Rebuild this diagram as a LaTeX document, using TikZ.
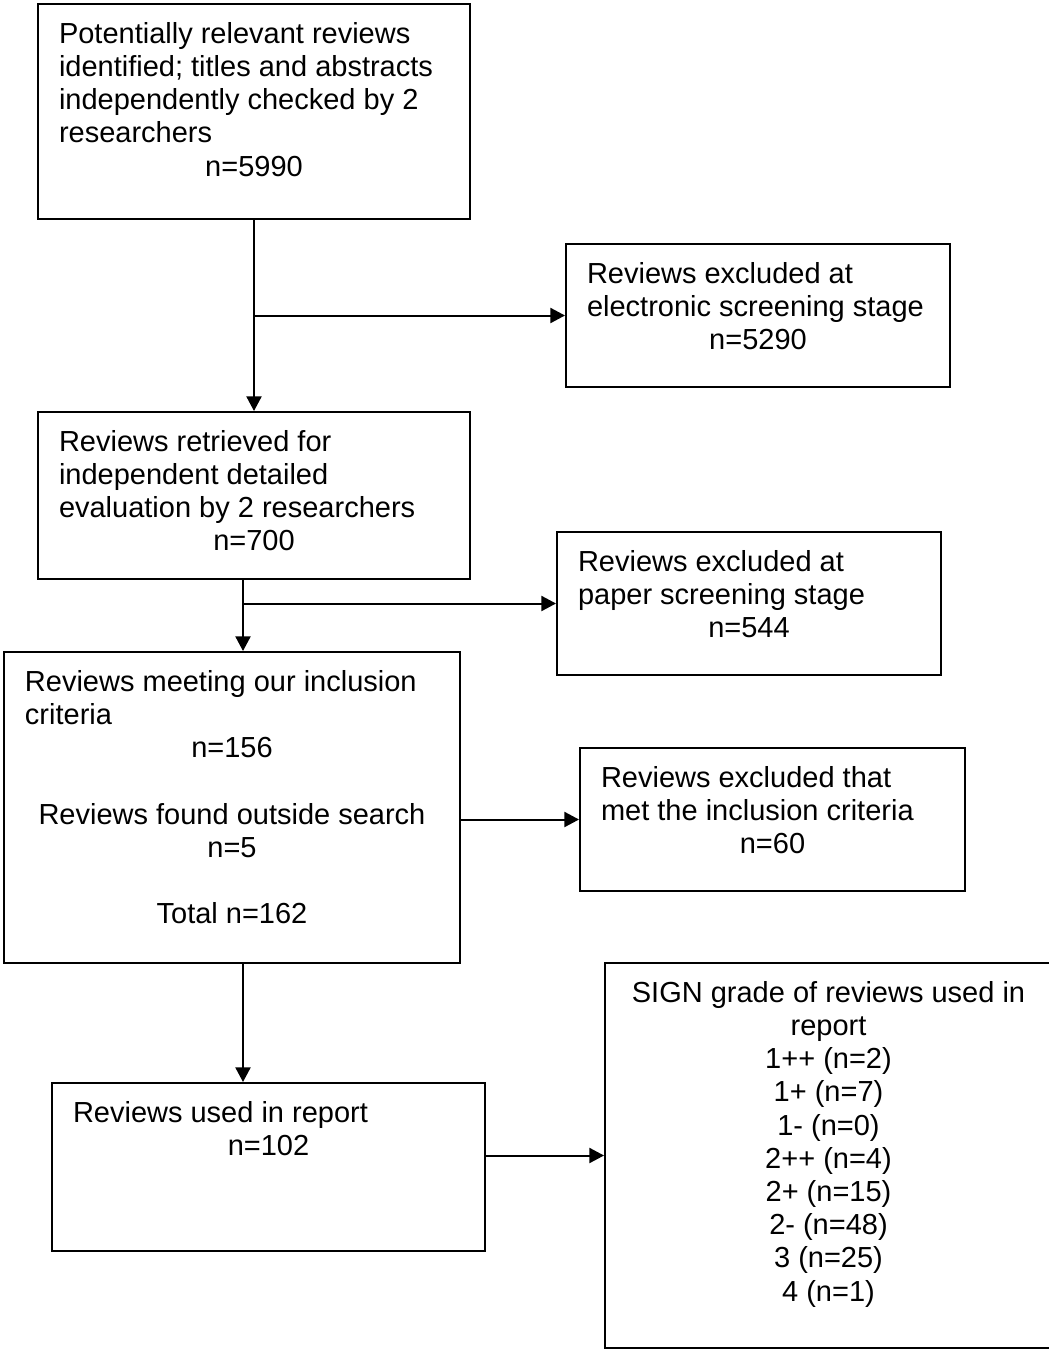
\documentclass[tikz,border=0pt]{standalone}
\usepackage{fontspec}
\setmainfont{Liberation Sans}
\usetikzlibrary{arrows.meta, positioning}

% box body: width and height in px, text starts at the top
\newcommand{\boxtxt}[3]{\parbox[c][\dimexpr #2pt/2-16pt\relax][t]{\dimexpr #1pt/2-21pt\relax}{\raggedright\strut #3}}

\begin{document}
\begin{tikzpicture}[
    x=0.5pt, y=-0.5pt,
    flowbox/.style={draw, line width=1pt, anchor=north west, inner xsep=10.5pt, inner ysep=8pt,
        font=\fontsize{14.5pt}{16.6pt}\selectfont},
    flowarrow/.style={line width=1pt, -{Triangle[length=7.3pt, width=7.5pt]}}
]
    \useasboundingbox (0,0) rectangle (1049,1349);

    % Main column
    \node[flowbox] (identified) at (37,3) {\boxtxt{432}{215}{Potentially relevant reviews\\identified; titles and abstracts\\independently checked by 2\\researchers\par\centering n=5990}};
    \node[flowbox] (retrieved) at (37,411) {\boxtxt{432}{167}{Reviews retrieved for\\independent detailed\\evaluation by 2 researchers\par\centering n=700}};
    \node[flowbox] (meeting) at (3,651) {\boxtxt{456}{311}{Reviews meeting our inclusion\\criteria\par\centering n=156\\[16.6pt]Reviews found outside search\\n=5\\[16.6pt]Total n=162}};
    \node[flowbox] (used) at (51,1082) {\boxtxt{433}{168}{Reviews used in report\par\centering n=102}};

    % Side boxes
    \node[flowbox] (screened) at (565,243) {\boxtxt{384}{143}{Reviews excluded at\\electronic screening stage\par\centering n=5290}};
    \node[flowbox] (paper) at (556,531) {\boxtxt{384}{143}{Reviews excluded at\\paper screening stage\par\centering n=544}};
    \node[flowbox] (metcrit) at (579,747) {\boxtxt{385}{143}{Reviews excluded that\\met the inclusion criteria\par\centering n=60}};
    \node[flowbox] (grades) at (604,962) {\boxtxt{447}{385}{\centering SIGN grade of reviews used in\\report\\1++ (n=2)\\1+ (n=7)\\1- (n=0)\\2++ (n=4)\\2+ (n=15)\\2- (n=48)\\3 (n=25)\\4 (n=1)}};

    % Junctions
    \coordinate (split1) at (identified.south |- screened.west);
    \coordinate (down2) at ([xshift=103pt]retrieved.south west);
    \coordinate (split2) at (down2 |- paper.west);
    \coordinate (out3) at (meeting.east |- metcrit.west);
    \coordinate (down5) at ([xshift=120pt]meeting.south west);
    \coordinate (out7) at (used.east |- grades.west);

    % Edges
    \draw[flowarrow] (identified) -- (retrieved);
    \draw[flowarrow] (split1) -- (screened);
    \draw[flowarrow] (down2) -- (down2 |- meeting.north);
    \draw[flowarrow] (split2) -- (paper);
    \draw[flowarrow] (out3) -- (metcrit);
    \draw[flowarrow] (down5) -- (down5 |- used.north);
    \draw[flowarrow] (out7) -- (grades);

\end{tikzpicture}
\end{document}
